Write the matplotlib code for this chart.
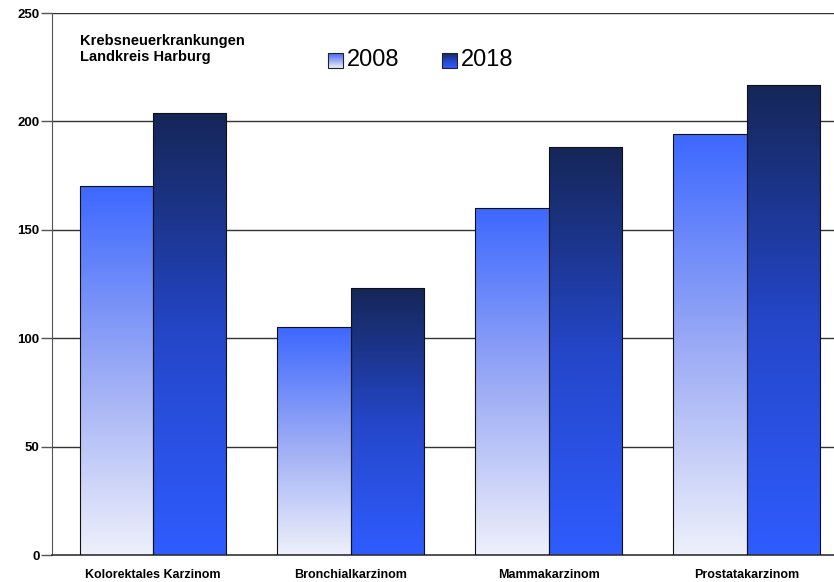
import numpy as np
import matplotlib
matplotlib.use('Agg')
import matplotlib.pyplot as plt
from matplotlib.colors import LinearSegmentedColormap

# Data
categories = ['Kolorektales Karzinom', 'Bronchialkarzinom', 'Mammakarzinom', 'Prostatakarzinom']
years = ['2008', '2018']
values_2008 = [170, 105, 160, 194]
values_2018 = [204, 123, 188, 217]
yticks = [0, 50, 100, 150, 200, 250]

plt.rcParams['font.family'] = ['Liberation Sans', 'DejaVu Sans']

# gradients: bottom -> top
cmap_2008 = LinearSegmentedColormap.from_list('g08', ['#eef0fb', '#9aaaf5', '#3d68ff'])
cmap_2018 = LinearSegmentedColormap.from_list('g18', ['#2f5cff', '#2446c8', '#152657'])

fig = plt.figure(figsize=(8.34, 5.82), dpi=100)
ax = fig.add_axes([52 / 834, 27 / 582, 782 / 834, 542 / 582])

bar_w = 0.371
x = np.arange(len(categories))
grad = np.linspace(0, 1, 256).reshape(-1, 1)


def gradient_bar(xc, h, cmap):
    bars = ax.bar(xc, h, width=bar_w, align='edge', facecolor='none',
                  edgecolor='#111111', linewidth=0.8, zorder=3)
    for b in bars:
        im = ax.imshow(grad, cmap=cmap, aspect='auto', origin='lower',
                       extent=[b.get_x(), b.get_x() + b.get_width(), 0, b.get_height()],
                       zorder=2)
        im.set_clip_path(b)


gradient_bar(x - bar_w, values_2008, cmap_2008)
gradient_bar(x, values_2018, cmap_2018)

ax.set_xlim(-0.51, 3.44)
ax.set_ylim(0, 250)
ax.set_yticks(yticks)
ax.set_xticks(x)
ax.set_xticklabels(categories, fontweight='bold', fontsize=9,
                   family=['Liberation Sans Narrow', 'Liberation Sans'])
ax.tick_params(axis='x', length=0, pad=10)
ax.tick_params(axis='y', length=8, width=1, colors='#555555', labelcolor='black',
               labelsize=9.5, pad=1)
for lab in ax.get_yticklabels():
    lab.set_fontweight('bold')

for yv in yticks[1:]:
    ax.axhline(yv, color='#333333', linewidth=1.0, zorder=1)

ax.spines['right'].set_visible(False)
ax.spines['top'].set_visible(False)
ax.spines['left'].set_color('#555555')
ax.spines['bottom'].set_color('#333333')
ax.spines['bottom'].set_linewidth(1.2)

ax.text(0.036, 1 - 21 / 542, 'Krebsneuerkrankungen\nLandkreis Harburg', transform=ax.transAxes,
        fontsize=10.5, fontweight='bold', va='top', ha='left', linespacing=1.15)

# legend built by hand
for xs, cm, lab in [(276 / 782, cmap_2008, years[0]), (390 / 782, cmap_2018, years[1])]:
    ax.imshow(grad[::-1], cmap=cm, aspect='auto', origin='upper',
              extent=[xs, xs + 15 / 782, 1 - 55 / 542, 1 - 40 / 542],
              transform=ax.transAxes, zorder=5)
    ax.add_patch(plt.Rectangle((xs, 1 - 55 / 542), 15 / 782, 15 / 542, transform=ax.transAxes,
                               fill=False, edgecolor='#222222', linewidth=0.8, zorder=6))
    ax.text(xs + 19 / 782, 1 - 47 / 542, lab, transform=ax.transAxes, fontsize=17,
            va='center', ha='left')

ax.set_xlim(-0.51, 3.44)
ax.set_ylim(0, 250)

fig.savefig('out.png', dpi=100)
